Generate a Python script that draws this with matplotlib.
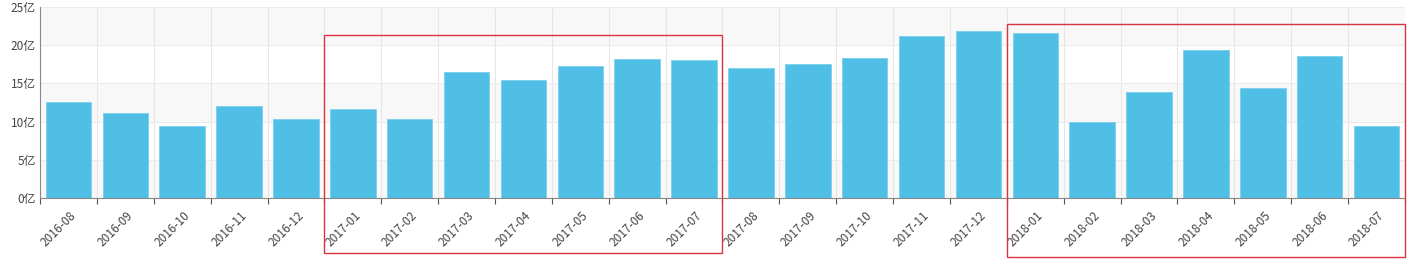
import matplotlib.pyplot as plt
from matplotlib.patches import Rectangle

plt.rcParams['font.family'] = ['Noto Sans CJK SC', 'DejaVu Sans']

# Data (亿)
bulan = ['2016-08', '2016-09', '2016-10', '2016-11', '2016-12',
         '2017-01', '2017-02', '2017-03', '2017-04', '2017-05', '2017-06', '2017-07',
         '2017-08', '2017-09', '2017-10', '2017-11', '2017-12',
         '2018-01', '2018-02', '2018-03', '2018-04', '2018-05', '2018-06', '2018-07']
nilai = [12.6, 11.1, 9.4, 12.0, 10.3,
         11.6, 10.3, 16.5, 15.4, 17.3, 18.2, 18.05,
         17.0, 17.5, 18.3, 21.2, 21.9,
         21.6, 9.9, 13.9, 19.4, 14.4, 18.6, 9.4]
y_ticks = [0, 5, 10, 15, 20, 25]
y_labels = ['0亿', '5亿', '10亿', '15亿', '20亿', '25亿']

# highlighted ranges: (first idx, last idx, top value, bottom value)
kotak = [(5, 11, 21.3, -7.2), (17, 23, 22.8, -7.7)]

fig = plt.figure(figsize=(14.14, 2.67), dpi=100)
ax = fig.add_axes([0.0283, 0.2584, 0.9653, 0.7154])

n = len(bulan)
x = list(range(n))

# alternating background bands
for i in range(len(y_ticks) - 1):
    if i % 2 == 0:
        ax.axhspan(y_ticks[i], y_ticks[i + 1], color='#f8f8f8', zorder=0, lw=0)

for b in range(n + 1):
    ax.axvline(b - 0.5, color='#e6e6e6', lw=0.8, zorder=0.5)
for t in y_ticks:
    ax.axhline(t, color='#ececec', lw=0.8, zorder=0.5)

ax.bar(x, nilai, width=0.8, color='#4fbfe6', edgecolor='#7ccfee', linewidth=0.6, zorder=2)

ax.set_xlim(-0.5, n - 0.5)
ax.set_ylim(0, 25)
ax.set_yticks(y_ticks)
ax.set_yticklabels(y_labels, fontsize=8.5, color='#444444')
ax.tick_params(axis='y', length=0, pad=3)

ax.set_xticks([b - 0.5 for b in range(n + 1)])
ax.set_xticklabels([])
ax.tick_params(axis='x', length=4, color='#555555', direction='out')
for i, lab in enumerate(bulan):
    ax.text(i + 0.02, -1.4, lab, rotation=45, ha='right', va='top',
            rotation_mode='anchor', fontsize=8.5, color='#444444')

for s in ['top', 'right']:
    ax.spines[s].set_visible(False)
ax.spines['left'].set_color('#888888')
ax.spines['bottom'].set_color('#888888')

for a, b, atas, bawah in kotak:
    r = Rectangle((a - 0.5, bawah), b - a + 1, atas - bawah, fill=False,
                  edgecolor='#d9333f', lw=1.0, clip_on=False, zorder=5)
    ax.add_patch(r)

fig.savefig('out.png', dpi=100)
